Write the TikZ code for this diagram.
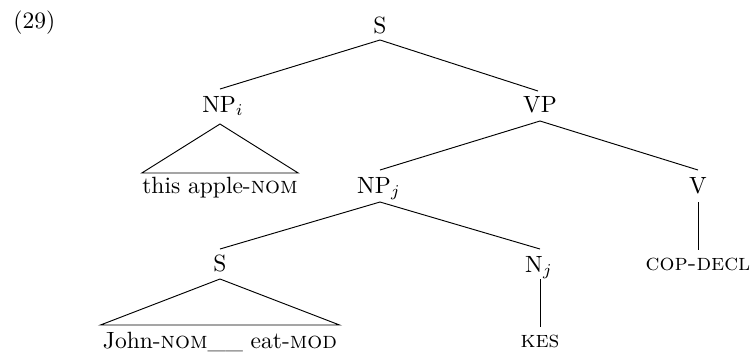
\documentclass[tikz,border=0pt]{standalone}
\usetikzlibrary{calc}
\begin{document}
\begin{tikzpicture}[x=0.4255pt,y=-0.4255pt,
  lab/.style={inner sep=0pt,anchor=base},
  edge/.style={line width=0.4pt,black}]
\useasboundingbox (0,0) rectangle (750,354);
\node[lab,anchor=base west] (num) at (13,28) {(29)};
\node[lab] (S) at (380,33) {S};
\node[lab] (NPi) at (223,112) {NP$_i$};
\node[lab] (VP) at (540,112) {VP};
\node[lab] (apple) at (220,193) {this apple-\textsc{nom}};
\node[lab] (NPj) at (379,193) {NP$_j$};
\node[lab] (V) at (698,193) {V};
\node[lab] (S2) at (220,271) {S};
\node[lab] (Nj) at (539,272) {N$_j$};
\node[lab] (COP) at (698,270) {\textsc{cop-decl}};
\node[lab] (John) at (220,348) {John-\textsc{nom}\_\_ eat-\textsc{mod}};
\node[lab] (KES) at (540,347) {\textsc{kes}};
% edges
\draw[edge] ($(S.base)+(0,7)$) -- ($(NPi.base)+(-3,-23)$);
\draw[edge] ($(S.base)+(0,7)$) -- ($(VP.base)+(-2,-21)$);
\draw[edge] ($(VP.base)+(0,9)$) -- ($(NPj.base)+(1,-23)$);
\draw[edge] ($(VP.base)+(0,9)$) -- ($(V.base)+(0,-23)$);
\draw[edge] ($(NPj.base)+(1,9)$) -- ($(S2.base)+(0,-22)$);
\draw[edge] ($(NPj.base)+(1,9)$) -- ($(Nj.base)+(1,-23)$);
\draw[edge] ($(V.base)+(0,9)$) -- ($(COP.base)+(0,-20)$);
\draw[edge] ($(Nj.base)+(1,7)$) -- ($(KES.base)+(0,-20)$);
% roofs
\draw[edge] ($(apple.base west)+(0,-20)$) -- ($(NPi.base)+(-3,12)$) -- ($(apple.base east)+(0,-20)$) -- cycle;
\draw[edge] ($(John.base west)+(-2,-23)$) -- ($(S2.base)+(0,8)$) -- ($(John.base east)+(2,-23)$) -- cycle;
\end{tikzpicture}
\end{document}
